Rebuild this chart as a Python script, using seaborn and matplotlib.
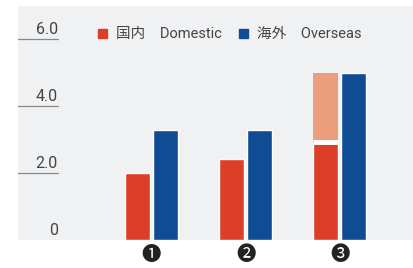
import pandas as pd
import matplotlib.pyplot as plt
import matplotlib.patches as mpatches
import seaborn as sns

groups = ["❶", "❷", "❸"]
domestic = [2.0, 2.43, 2.9]
overseas = [3.3, 3.3, 5.0]
domestic_extra = [0.0, 0.0, 2.1]
y_ticks = [0, 2.0, 4.0, 6.0]
y_tick_labels = ["0", "2.0", "4.0", "6.0"]
series = ["国内\u3000Domestic", "海外\u3000Overseas"]

RED = "#db3f28"
BLUE = "#0f4c94"
SALMON = "#ec9e7c"
PANEL = "#f0f1f3"
TEXT = "#444444"

sns.set_theme(style="white")
plt.rcParams["font.family"] = ["Roboto", "Noto Sans CJK JP", "DejaVu Sans"]

data = pd.DataFrame({
    "group": groups * 2,
    "series": [series[0]] * 3 + [series[1]] * 3,
    "value": domestic + overseas,
})

fig = plt.figure(figsize=(4.13, 2.68), dpi=100)
ax = fig.add_axes([0.0436, 0.1045, 0.9564, 0.8731])
ax.set_facecolor(PANEL)

sns.barplot(data=data, x="group", y="value", hue="series", order=groups,
            hue_order=series, palette=[RED, BLUE], width=0.6, gap=0.1,
            saturation=1, legend=False, ax=ax)

# stacked lighter segment on the domestic bars
red_patches = ax.patches[:3]
for p, base, extra in zip(red_patches, domestic, domestic_extra):
    if extra > 0:
        ax.bar(p.get_x() + p.get_width() / 2, extra, width=p.get_width(),
               bottom=base, color=SALMON, linewidth=0)
        ax.hlines(base + 0.03, p.get_x(), p.get_x() + p.get_width(),
                  color="white", lw=3.5)

ax.set_xlim(-1.42, 2.78)
ax.set_ylim(0, 7.0)

# tick labels sitting on short guide lines inside the panel
for v, lab in zip(y_ticks, y_tick_labels):
    if v > 0:
        ax.plot([0, 0.101], [v, v], color="#888888", lw=0.9,
                transform=ax.get_yaxis_transform(), clip_on=False)
    ax.text(0.101, v + 0.07, lab, transform=ax.get_yaxis_transform(),
            ha="right", va="bottom", fontsize=11.5, color=TEXT)

ax.set_yticks([])
ax.set_xlabel("")
ax.set_ylabel("")
ax.tick_params(axis="x", length=0, pad=4, labelsize=14, labelcolor="#222222")
for s in ax.spines.values():
    s.set_visible(False)

handles = [mpatches.Patch(color=RED), mpatches.Patch(color=BLUE)]
ax.legend(handles, series, ncol=2, frameon=False, loc="upper left",
          bbox_to_anchor=(0.17, 0.965), handlelength=0.6, handleheight=0.6,
          handletextpad=0.6, columnspacing=1.2, fontsize=10.5,
          labelcolor=TEXT)

fig.savefig("out.png", dpi=100)
